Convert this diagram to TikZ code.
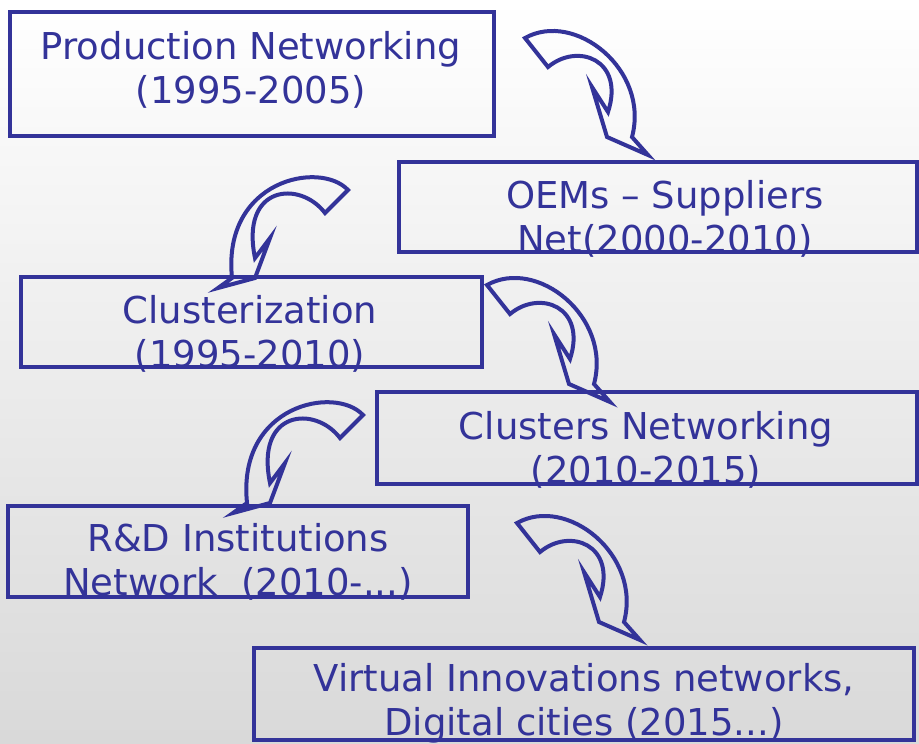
\documentclass[tikz,border=0pt]{standalone}
\usepackage{fontspec}
\setmainfont{DejaVu Sans}
\definecolor{netblue}{HTML}{333399}

\begin{document}
\begin{tikzpicture}
[x=1pt,y=-1pt,
 stage/.style={draw=netblue,line width=4pt,rectangle,inner sep=0pt},
 caption/.style={text=netblue,align=center,inner sep=0pt,font=\fontsize{37}{44}\selectfont},
 swoop/.style={draw=netblue,line width=4pt,line join=miter},
 swoopR/.pic={\draw[swoop] (0,0) .. controls (50,-28) and (125,32) .. (107,99)
   -- (123,117) -- (82,99) -- (67,49) -- (83,74)
   .. controls (100,22) and (53,4) .. (23,29) -- cycle;},
 swoopL/.pic={\draw[swoop] (0,0) .. controls (-28,-30) and (-126,-10) .. (-116,88)
   -- (-130,98) -- (-93,88) -- (-78,48) -- (-93,68)
   .. controls (-108,-5) and (-48,-10) .. (-23,23) -- cycle;}]

% background
\shade[top color=white,middle color=black!5,bottom color=black!15] (0,0) rectangle (919,744);
\useasboundingbox (0,0) rectangle (919,744);

% stages
\node[stage,minimum width=484pt,minimum height=124pt] (prodnet) at (252,74) {};
\node[stage,minimum width=518pt,minimum height=90pt] (oemnet) at (658,207) {};
\node[stage,minimum width=461pt,minimum height=90pt] (cluster) at (251.5,322) {};
\node[stage,minimum width=540pt,minimum height=92pt] (clusternet) at (647,438) {};
\node[stage,minimum width=460pt,minimum height=91pt] (rdnet) at (238,551.5) {};
\node[stage,minimum width=660pt,minimum height=92pt] (virtnet) at (584,694) {};

% texts
\node[caption] (prodtext) at (251,69.5) {Production Networking\\(1995-2005)};
\node[caption] (oemtext) at (665,218.5) {OEMs – Suppliers\\Net(2000-2010)};
\node[caption] (clustertext) at (250,334) {Clusterization\\(1995-2010)};
\node[caption] (clusternettext) at (646,450) {Clusters Networking\\(2010-2015)};
\node[caption] (rdtext) at (238,561.5) {R\&D Institutions\\Network\ \ (2010-...)};
\node[caption] (virttext) at (584,703) {Virtual Innovations networks,\\Digital cities (2015...)};

% swoops between stages
\foreach \p in {(525,38),(487,285),(517,523)}
  \pic at \p {swoopR};
\foreach \p in {(348,190),(363,415)}
  \pic at \p {swoopL};

\end{tikzpicture}
\end{document}
